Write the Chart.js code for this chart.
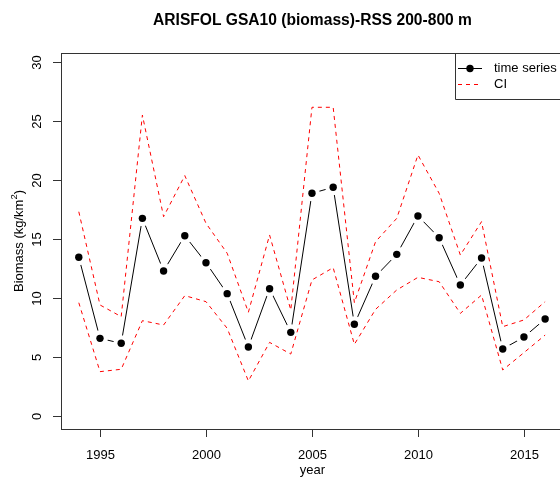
<!DOCTYPE html>
<html>
<head>
<meta charset="utf-8">
<script src="https://cdn.jsdelivr.net/npm/chart.js@4"></script>
<style>
  html, body { margin: 0; padding: 0; background: #fff; overflow: hidden; }
  #wrap { width: 580px; height: 477px; }
</style>
</head>
<body>
<div id="wrap"><canvas id="biomassChart"></canvas></div>
<script>
const years = [1994, 1995, 1996, 1997, 1998, 1999, 2000, 2001, 2002, 2003, 2004, 2005,
  2006, 2007, 2008, 2009, 2010, 2011, 2012, 2013, 2014, 2015, 2016];
const biomass = [13.45, 6.58, 6.16, 16.75, 12.29, 15.28, 12.99, 10.37, 5.85, 10.79, 7.09, 18.87,
  19.38, 7.77, 11.84, 13.70, 16.95, 15.11, 11.10, 13.39, 5.68, 6.69, 8.22];
const ciUpper = [17.31, 9.41, 8.42, 25.5, 16.89, 20.37, 16.33, 13.79, 8.79, 15.34, 8.98, 26.16,
  26.16, 9.6, 14.77, 16.75, 22.12, 18.87, 13.64, 16.47, 7.57, 8.14, 9.69];
const ciLower = [9.6, 3.76, 3.96, 8.08, 7.71, 10.2, 9.69, 7.43, 2.97, 6.24, 5.25, 11.53,
  12.57, 6.07, 9.04, 10.68, 11.75, 11.38, 8.7, 10.25, 3.9, 5.37, 6.86];
const xTicks = [1995, 2000, 2005, 2010, 2015];
const yTicks = [0, 5, 10, 15, 20, 25, 30];

const FONT = '"Liberation Sans", Arial, sans-serif';

function toPoints(vals) {
  return years.map((yr, i) => ({ x: yr, y: vals[i] }));
}

// R "type = b": line stops short of each dot
const gapDots = {
  id: 'gapDots',
  afterDatasetDraw(chart, args) {
    if (args.index !== 0) return;
    const ctx = chart.ctx;
    ctx.save();
    args.meta.data.forEach(pt => {
      ctx.fillStyle = '#fff';
      ctx.beginPath();
      ctx.arc(pt.x, pt.y, 8, 0, Math.PI * 2);
      ctx.fill();
      ctx.fillStyle = '#000';
      ctx.beginPath();
      ctx.arc(pt.x, pt.y, 3.7, 0, Math.PI * 2);
      ctx.fill();
    });
    ctx.restore();
  }
};

// R-style axes, box, titles and legend
const rAxes = {
  id: 'rAxes',
  afterDraw(chart) {
    const ctx = chart.ctx;
    const a = chart.chartArea;
    const xs = chart.scales.x;
    const ys = chart.scales.y;
    ctx.save();

    // box
    ctx.strokeStyle = '#333';
    ctx.lineWidth = 1;
    ctx.strokeRect(Math.round(a.left) + 0.5, Math.round(a.top) + 0.5,
      Math.round(a.right - a.left), Math.round(a.bottom - a.top));

    // x ticks
    ctx.fillStyle = '#000';
    ctx.font = '13px ' + FONT;
    ctx.textAlign = 'center';
    ctx.textBaseline = 'middle';
    xTicks.forEach(v => {
      const px = Math.round(xs.getPixelForValue(v)) + 0.5;
      ctx.beginPath();
      ctx.moveTo(px, a.bottom);
      ctx.lineTo(px, a.bottom + 8);
      ctx.stroke();
      ctx.fillText(String(v), px, 455);
    });
    ctx.fillText('year', (a.left + a.right) / 2, 470);

    // y ticks, labels rotated like R
    yTicks.forEach(v => {
      const py = Math.round(ys.getPixelForValue(v)) + 0.5;
      ctx.beginPath();
      ctx.moveTo(a.left, py);
      ctx.lineTo(a.left - 8, py);
      ctx.stroke();
      ctx.save();
      ctx.translate(37, py);
      ctx.rotate(-Math.PI / 2);
      ctx.fillText(String(v), 0, 0);
      ctx.restore();
    });

    // y axis title with superscript
    ctx.save();
    ctx.translate(19, (a.top + a.bottom) / 2);
    ctx.rotate(-Math.PI / 2);
    const p1 = 'Biomass (kg/km', p2 = '2', p3 = ')';
    ctx.font = '13px ' + FONT;
    const w1 = ctx.measureText(p1).width, w3 = ctx.measureText(p3).width;
    ctx.font = '9.5px ' + FONT;
    const w2 = ctx.measureText(p2).width;
    let sx = -(w1 + w2 + w3) / 2;
    ctx.textAlign = 'left';
    ctx.font = '13px ' + FONT;
    ctx.fillText(p1, sx, 0);
    ctx.font = '9.5px ' + FONT;
    ctx.fillText(p2, sx + w1, -5);
    ctx.font = '13px ' + FONT;
    ctx.fillText(p3, sx + w1 + w2, 0);
    ctx.restore();

    // main title
    ctx.font = 'bold 15.6px ' + FONT;
    ctx.textAlign = 'center';
    ctx.fillText('ARISFOL GSA10 (biomass)-RSS 200-800 m', (a.left + a.right) / 2, 21);

    // legend (top right; its right side is off the page like the plot box)
    const lx = 455.5, ly = Math.round(a.top) + 0.5, lb = ly + 46;
    ctx.strokeStyle = '#333';
    ctx.beginPath();
    ctx.moveTo(lx, ly);
    ctx.lineTo(lx, lb);
    ctx.lineTo(a.right, lb);
    ctx.stroke();
    ctx.strokeStyle = '#000';
    ctx.beginPath();
    ctx.moveTo(458, 68.5);
    ctx.lineTo(482, 68.5);
    ctx.stroke();
    ctx.beginPath();
    ctx.arc(470, 68.5, 3.7, 0, Math.PI * 2);
    ctx.fill();
    ctx.strokeStyle = '#ff0000';
    ctx.setLineDash([4, 4]);
    ctx.beginPath();
    ctx.moveTo(458, 84.5);
    ctx.lineTo(482, 84.5);
    ctx.stroke();
    ctx.setLineDash([]);
    ctx.fillStyle = '#000';
    ctx.textAlign = 'left';
    ctx.font = '13px ' + FONT;
    ctx.fillText('time series', 494, 68.5);
    ctx.fillText('CI', 494, 84.5);

    ctx.restore();
  }
};

const ctxBio = document.getElementById('biomassChart').getContext('2d');
const biomassChart = new Chart(ctxBio, {
  type: 'line',
  data: {
    datasets: [
      {
        label: 'time series',
        data: toPoints(biomass),
        borderColor: '#000',
        borderWidth: 1,
        pointRadius: 0,
        tension: 0,
        order: 2
      },
      {
        label: 'CI upper',
        data: toPoints(ciUpper),
        borderColor: '#ff0000',
        borderWidth: 1,
        borderDash: [4, 4],
        pointRadius: 0,
        tension: 0,
        order: 1
      },
      {
        label: 'CI lower',
        data: toPoints(ciLower),
        borderColor: '#ff0000',
        borderWidth: 1,
        borderDash: [4, 4],
        pointRadius: 0,
        tension: 0,
        order: 1
      }
    ]
  },
  options: {
    responsive: true,
    maintainAspectRatio: false,
    animation: false,
    layout: { padding: { left: 61, top: 53, right: 16, bottom: 48 } },
    plugins: {
      legend: { display: false },
      title: { display: false },
      tooltip: { enabled: false }
    },
    scales: {
      x: { type: 'linear', display: false, min: 1993.16, max: 2016.89 },
      y: { type: 'linear', display: false, min: -1.10, max: 30.76 }
    }
  },
  plugins: [gapDots, rAxes]
});
</script>
</body>
</html>
